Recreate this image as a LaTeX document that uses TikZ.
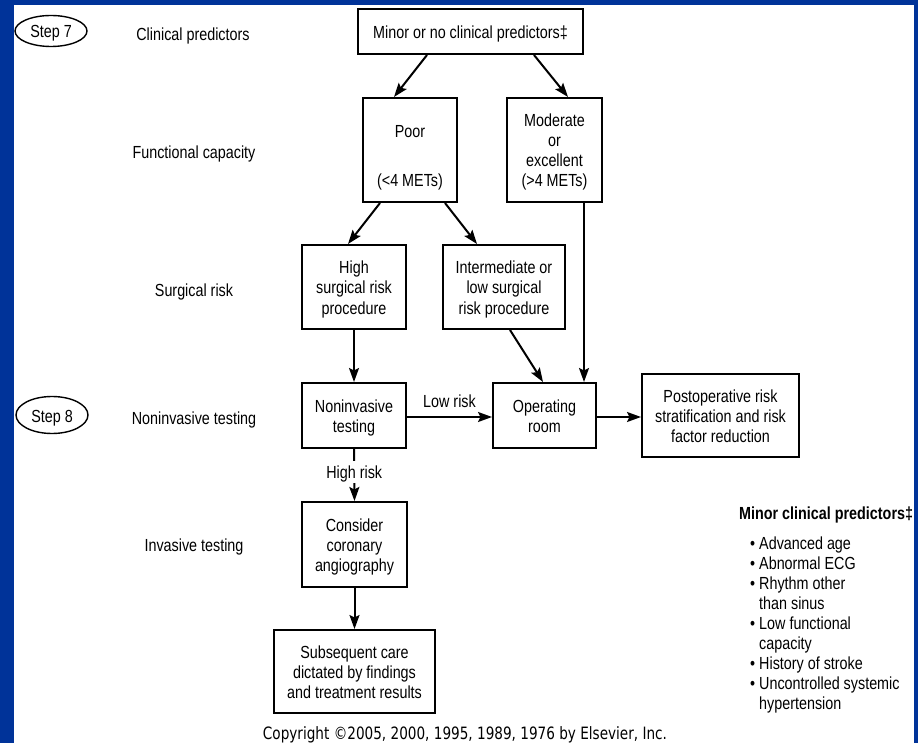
\documentclass[tikz,border=0pt]{standalone}
\usepackage{fontspec}
\setmainfont{Liberation Sans}[FakeStretch=0.82]
\newfontfamily\copyfont{DejaVu Sans}[FakeStretch=0.8]
\usetikzlibrary{arrows.meta,shapes.geometric}
\definecolor{navy}{RGB}{0,51,153}
\newcommand\lw[2][-3pt]{\raisebox{#1}[\height][\depth]{\begin{tabular}{@{}c@{}}#2\end{tabular}}}
\begin{document}
\begin{tikzpicture}[x=1pt,y=-1pt,
  txt/.style={font=\fontsize{17.5}{20}\selectfont,inner sep=1pt,align=center},
  box/.style={txt,draw=black,line width=2pt,fill=white,inner sep=0pt},
  arr/.style={line width=2pt,-{Stealth[length=14pt,width=10pt,inset=2.5pt]}},
  stepov/.style={txt,draw=black,ellipse,line width=1.4pt,inner sep=0pt}
]
\useasboundingbox (0,0) rectangle (918,743);
\fill[navy] (0,0) rectangle (918,743);
\fill[white] (14,5) rectangle (914,743);

% step ovals and row labels
\node[stepov,minimum width=72pt,minimum height=31pt] (s7) at (51,31) {\lw{Step 7}};
\node[stepov,minimum width=72pt,minimum height=37pt] (s8) at (52,415) {\lw{Step 8}};
\node[txt] (r1) at (193,36) {Clinical predictors};
\node[txt] (r2) at (194,154) {Functional capacity};
\node[txt] (r3) at (194,292) {Surgical risk};
\node[txt] (r4) at (194,420) {Noninvasive testing};
\node[txt] (r5) at (194,547) {Invasive testing};

% boxes
\node[box,minimum width=225pt,minimum height=45pt] (minor) at (470.5,31.5) {\lw{Minor or no clinical predictors‡}};
\node[box,minimum width=94pt,minimum height=104pt] (poor) at (410,150) {\lw[-8pt]{Poor\\[29pt](<4 METs)}};
\node[box,minimum width=95pt,minimum height=104pt] (mod) at (554.5,150) {\lw{Moderate\\or\\excellent\\(>4 METs)}};
\node[box,minimum width=104pt,minimum height=84pt] (high) at (354,287) {\lw{High\\surgical risk\\procedure}};
\node[box,minimum width=122pt,minimum height=84pt] (inter) at (504,287) {\lw{Intermediate or\\low surgical\\risk procedure}};
\node[box,minimum width=104pt,minimum height=65pt] (nonin) at (354,415.5) {\lw{Noninvasive\\testing}};
\node[box,minimum width=103pt,minimum height=65pt] (oper) at (544.5,415.5) {\lw{Operating\\room}};
\node[box,minimum width=157pt,minimum height=83pt] (postop) at (720.5,415.5) {\lw{Postoperative risk\\stratification and risk\\factor reduction}};
\node[box,minimum width=105pt,minimum height=85pt] (cons) at (354.5,544.5) {\lw{Consider\\coronary\\angiography}};
\node[box,minimum width=161pt,minimum height=83pt] (subs) at (354.5,671.5) {\lw{Subsequent care\\dictated by findings\\and treatment results}};

% connectors
\draw[arr] ([xshift=-43.5pt]minor.south) -- ([xshift=-16pt]poor.north);
\draw[arr] ([xshift=63.5pt]minor.south) -- ([xshift=13.5pt]mod.north);
\draw[arr] ([xshift=-30pt]poor.south) -- ([xshift=-6pt]high.north);
\draw[arr] ([xshift=35pt]poor.south) -- ([xshift=-27pt]inter.north);
\draw[arr] ([xshift=29.5pt]mod.south) -- ([xshift=39.5pt]oper.north);
\draw[arr] ([xshift=6pt]inter.south) -- ([xshift=-1.5pt]oper.north);
\draw[arr] (high.south) -- (nonin.north);
\draw[arr] ([yshift=-1.5pt]nonin.east) -- node[txt,above=7pt] (lowrisk) {Low risk} ([yshift=-1.5pt]oper.west);
\draw[arr] ([yshift=-1.5pt]oper.east) -- ([yshift=-1.5pt]postop.west);
\draw[arr] (nonin.south) -- node[txt,fill=white,pos=0.44] (highrisk) {\lw{High risk}} (cons.north);
\draw[arr] (cons.south) -- (subs.north);

% legend
\node[txt,anchor=base west,font=\fontsize{17.5}{20}\selectfont\bfseries] (legh) at (738,519) {Minor clinical predictors‡};
\foreach \t/\yy [count=\i] in {\textbullet\ Advanced age/549,
  \textbullet\ Abnormal ECG/569,
  \textbullet\ Rhythm other/589,
  \hphantom{\textbullet\ }than sinus/609,
  \textbullet\ Low functional/629,
  \hphantom{\textbullet\ }capacity/649,
  \textbullet\ History of stroke/669,
  \textbullet\ Uncontrolled systemic/689,
  \hphantom{\textbullet\ }hypertension/709}
  \node[txt,anchor=base west] (leg\i) at (749,\yy) {\t};

% copyright
\node[inner sep=0pt,font=\copyfont\fontsize{17}{20}\selectfont] (copy) at (465,735) {Copyright ©2005, 2000, 1995, 1989, 1976 by Elsevier, Inc.};
\end{tikzpicture}
\end{document}
